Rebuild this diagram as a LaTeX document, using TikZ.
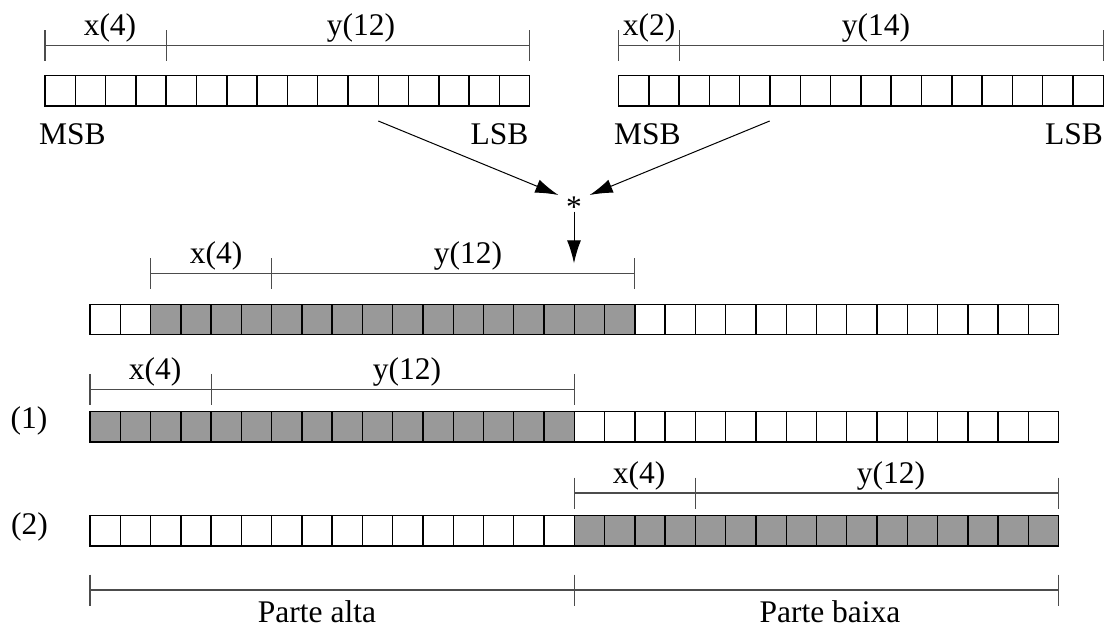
\documentclass[tikz,border=0pt]{standalone}
\usepackage{fontspec}
\setmainfont{Liberation Serif}
\usetikzlibrary{arrows.meta}
\definecolor{shade}{RGB}{153,153,153}
\begin{document}
\begin{tikzpicture}[x=1pt,y=-1pt,
  cell/.style={draw, line width=1.4pt, minimum width=30.27pt, minimum height=30.3pt, inner sep=0pt, outer sep=0pt, anchor=north west},
  hot/.style={cell, fill=shade},
  brk/.style={line width=1.1pt, draw=black!70},
  lbl/.style={font=\fontsize{31.5}{38}\selectfont, inner sep=0pt, anchor=base},
  arr/.style={line width=1pt, -{Latex[length=23pt,width=14pt]}}]
\useasboundingbox (0,0) rectangle (1104,631);
\newcommand\brkt[4]{% x1, xm, x2, yline
  \draw[brk] (#1,#4) -- (#3,#4);
  \draw[brk] (#1,#4-15.5) -- (#1,#4+15.5);
  \draw[brk] (#2,#4-15.5) -- (#2,#4+15.5);
  \draw[brk] (#3,#4-15.5) -- (#3,#4+15.5);}
% top-left register
\foreach \i in {0,...,15} \node[cell] (tl\i) at ({45+30.3*\i},75.7) {};
% top-right register
\foreach \i in {0,...,15} \node[cell] (tr\i) at ({618.5+30.3*\i},75.7) {};
% product register
\foreach \i in {0,1,18,19,...,31} \node[cell] (pa\i) at ({90+30.27*\i},304.3) {};
\foreach \i in {2,...,17} \node[hot] (pa\i) at ({90+30.27*\i},304.3) {};
% row (1)
\foreach \i in {16,...,31} \node[cell] (pb\i) at ({90+30.27*\i},411.7) {};
\foreach \i in {0,...,15} \node[hot] (pb\i) at ({90+30.27*\i},411.7) {};
% row (2)
\foreach \i in {0,...,15} \node[cell] (pc\i) at ({90+30.27*\i},515.7) {};
\foreach \i in {16,...,31} \node[hot] (pc\i) at ({90+30.27*\i},515.7) {};
% brackets
\brkt{45}{166.2}{529.8}{45.7}
\node[lbl] (tlx) at (110,35.7) {x(4)};
\node[lbl] (tly) at (361,35.7) {y(12)};
\brkt{618.5}{679.1}{1103.3}{45.7}
\node[lbl] (trx) at (649,35.7) {x(2)};
\node[lbl] (try) at (876,35.7) {y(14)};
\brkt{150.5}{271.6}{634.9}{273.7}
\node[lbl] (pax) at (216,263.7) {x(4)};
\node[lbl] (pay) at (468,263.7) {y(12)};
\brkt{90}{211.1}{574.3}{389.3}
\node[lbl] (pbx) at (155,379.3) {x(4)};
\node[lbl] (pby) at (407,379.3) {y(12)};
\brkt{574.3}{695.4}{1058.6}{493}
\node[lbl] (pcx) at (639,483) {x(4)};
\node[lbl] (pcy) at (891,483) {y(12)};
\draw[brk] (90,590) -- (1058.6,590);
\draw[brk] (90,574.5) -- (90,605.5);
\draw[brk] (574.3,574.5) -- (574.3,605.5);
\draw[brk] (1058.6,574.5) -- (1058.6,605.5);
\node[lbl] (alta) at (317,622) {Parte alta};
\node[lbl] (baixa) at (830,622) {Parte baixa};
% MSB / LSB
\node[lbl, anchor=base west] (msb1) at (39,145) {MSB};
\node[lbl, anchor=base east] (lsb1) at (528.5,145) {LSB};
\node[lbl, anchor=base west] (msb2) at (614,145) {MSB};
\node[lbl, anchor=base east] (lsb2) at (1103,145) {LSB};
% row labels
\node[lbl] (l1) at (29,428) {(1)};
\node[lbl] (l2) at (29.5,534) {(2)};
% star and arrows
\node[font=\fontsize{31.5}{38}\selectfont, inner sep=0pt] (star) at (574,207) {*};
\coordinate (la) at (378.3,121);
\coordinate (lt) at (558.3,195);
\coordinate (ra) at (769.7,121);
\coordinate (rt) at (589.7,195);
\coordinate (da) at (574,211.7);
\coordinate (dt) at (574,263.3);
\draw[arr] (la) -- (lt);
\draw[arr] (ra) -- (rt);
\draw[arr] (da) -- (dt);
\end{tikzpicture}
\end{document}
